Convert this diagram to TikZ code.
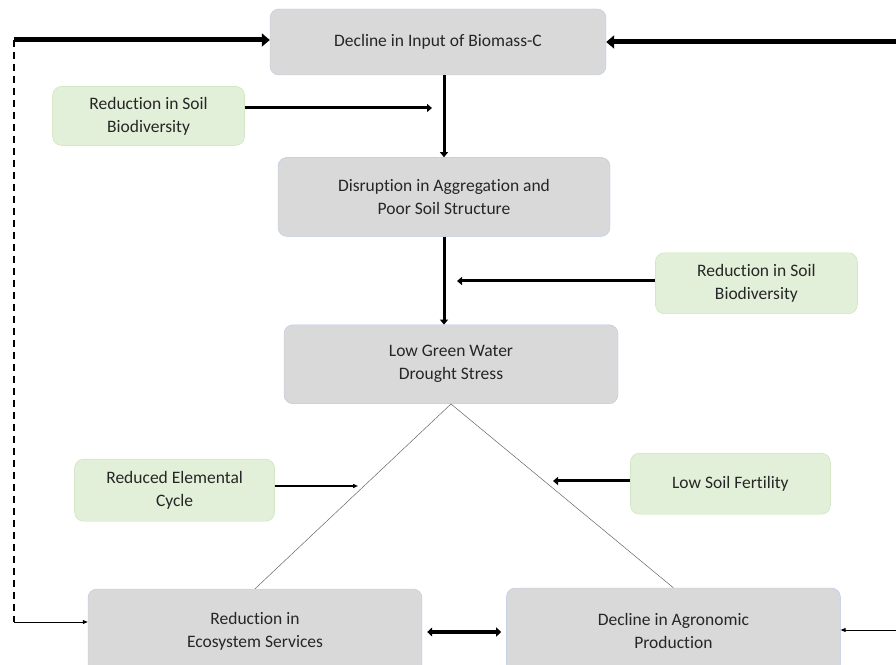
\documentclass[tikz,border=0pt]{standalone}
\usepackage{fontspec}
\setmainfont[Ligatures=NoCommon]{Carlito}
\usetikzlibrary{positioning, arrows.meta}

\definecolor{boxgray}{HTML}{D9D9D9}
\definecolor{boxedge}{HTML}{B4C7E7}
\definecolor{leafgreen}{HTML}{E2F0D9}
\definecolor{leafedge}{HTML}{C5E0B4}

\begin{document}
\begin{tikzpicture}[x=1pt, y=1pt,
        mainbox/.style={draw=boxedge, rounded corners=9pt, fill=boxgray, align=center, minimum width=334pt, minimum height=79pt, font=\fontsize{17.5}{23}\selectfont, text=black!85},
        sidebox/.style={draw=leafedge, rounded corners=9pt, fill=leafgreen, align=center, minimum width=200pt, minimum height=61pt, font=\fontsize{17.5}{23}\selectfont, text=black!85},
        bigarrow/.style={-{Triangle[length=8pt, width=13pt]}, line width=5pt},
        arrow/.style={-{Triangle[length=5pt, width=8pt]}, line width=3pt},
        thinarrow/.style={-{Triangle[length=5pt, width=4pt]}, line width=0.8pt},
        link/.style={draw=black!60, line width=0.5pt}
    ]
    \useasboundingbox (0,0) rectangle (896,664);
    \clip (0,0) rectangle (896,664);

    \node[mainbox, minimum width=336pt, minimum height=66pt] (input) at (438,622) {Decline in Input of Biomass-C};
    \node[mainbox, minimum width=332pt, below=82pt of input, xshift=6pt] (aggr) {Disruption in Aggregation and\\Poor Soil Structure};
    \node[mainbox, below=88pt of aggr, xshift=7pt] (water) {Low Green Water\\Drought Stress};
    \node[mainbox, minimum height=85pt] (eco) at (255,32.5) {Reduction in\\Ecosystem Services};
    \node[mainbox, minimum height=85pt, right=84pt of eco, yshift=1pt] (agro) {Decline in Agronomic\\Production};

    \node[sidebox, minimum width=192pt, minimum height=59pt, below left=11pt and 25pt of input] (biodivA) {Reduction in Soil\\Biodiversity};
    \node[sidebox, minimum width=202pt, below right=16pt and 45pt of aggr] (biodivB) {Reduction in Soil\\Biodiversity};
    \node[sidebox, minimum height=62pt, below left=55pt and 9pt of water] (cycle) {Reduced Elemental\\Cycle};
    \node[sidebox, below right=49pt and 12pt of water] (fert) {Low Soil Fertility};

    \coordinate (loop) at (14,624);
    \coordinate (rightin) at (896,622);
    \coordinate (rightlow) at (896,34);
    \coordinate (cyclehit) at (358,178);
    \coordinate (ferthit) at (553,183);

    \draw[bigarrow] (loop) -- (input.west |- loop);
    \draw[bigarrow] (rightin) -- (input.east);
    \draw[dash pattern=on 7pt off 5pt, line width=1.5pt] (loop) -- (loop |- 0,42);
    \draw[thinarrow] (loop |- 0,42) -- (eco.west |- 0,42);
    \draw[thinarrow] (rightlow) -- (agro.east |- rightlow);

    \draw[arrow] (input.south -| aggr) -- (aggr.north);
    \draw[arrow] (aggr.south) -- (aggr.south |- water.north);
    \draw[arrow] (biodivA.east |- 0,556) -- (432,556);
    \draw[arrow] (biodivB.west |- 0,383) -- (457,383);

    \draw[link] (water.south) -- (eco.north);
    \draw[link] (water.south) -- (agro.north);
    \draw[thinarrow, line width=2pt] (cycle.east |- cyclehit) -- (cyclehit);
    \draw[arrow] (fert.west |- ferthit) -- (ferthit);

    \draw[{Triangle[length=5pt, width=9pt]}-{Triangle[length=5pt, width=9pt]}, line width=3.5pt, shorten <=5pt, shorten >=5pt] (eco.east |- 0,32) -- (agro.west |- 0,32);
\end{tikzpicture}
\end{document}
